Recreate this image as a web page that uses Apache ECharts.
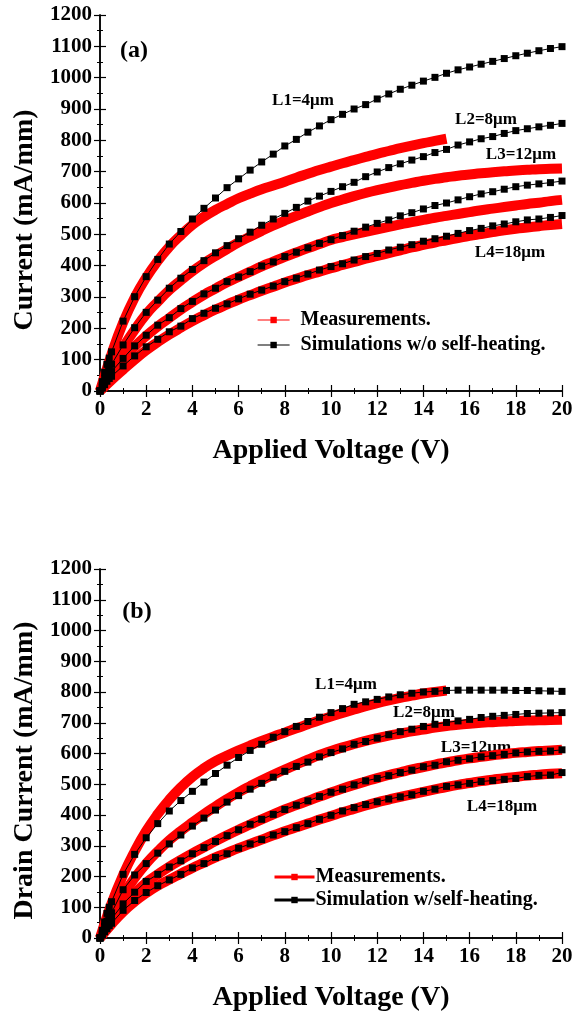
<!DOCTYPE html>
<html>
<head>
<meta charset="utf-8">
<script src="https://cdn.jsdelivr.net/npm/echarts@6/dist/echarts.min.js"></script>
<style>
  html, body { margin: 0; padding: 0; background: #fff; }
  #chart { width: 583px; height: 1013px; }
</style>
</head>
<body>
<div id="chart"></div>
<script>
// voltages of the simulation points and of the measurement points
var simV = [0, 0.1, 0.2, 0.3, 0.4, 0.5, 1, 1.5, 2, 2.5, 3, 3.5, 4, 4.5, 5, 5.5, 6, 6.5, 7, 7.5, 8, 8.5, 9, 9.5, 10,
  10.5, 11, 11.5, 12, 12.5, 13, 13.5, 14, 14.5, 15, 15.5, 16, 16.5, 17, 17.5, 18, 18.5, 19, 19.5, 20];
var measV = [0, 0.5, 1, 1.5, 2, 2.5, 3, 3.5, 4, 4.5, 5, 5.5, 6, 6.5, 7, 7.5, 8, 8.5, 9, 9.5, 10,
  10.5, 11, 11.5, 12, 12.5, 13, 13.5, 14, 14.5, 15, 15.5, 16, 16.5, 17, 17.5, 18, 18.5, 19, 19.5, 20];

// (a) simulations w/o self-heating
var simA_L1 = [0, 30, 60, 85, 105, 125, 223, 301, 365, 420, 469, 509, 549, 583, 616, 649, 677, 705, 731, 756, 782, 803, 826, 846, 866,
  883, 900, 914, 932, 948, 963, 976, 989, 1001, 1014, 1025, 1034, 1043, 1052, 1061, 1070, 1078, 1086, 1093, 1099];
var simA_L2 = [0, 18, 40, 58, 72, 85, 147, 202, 251, 290, 328, 360, 388, 416, 441, 464, 486, 507, 529, 549, 567, 586, 606, 622, 637,
  652, 666, 684, 699, 713, 725, 737, 748, 761, 771, 785, 795, 805, 812, 822, 831, 837, 843, 848, 854];
var simA_L3 = [0, 12, 28, 42, 54, 62, 104, 144, 178, 210, 234, 263, 286, 310, 328, 349, 364, 381, 399, 412, 429, 443, 457, 471, 483,
  496, 510, 523, 535, 546, 559, 569, 581, 592, 600, 610, 620, 629, 636, 644, 652, 657, 661, 665, 670];
var simA_L4 = [0, 9, 20, 31, 40, 47, 80, 112, 141, 165, 189, 207, 231, 248, 264, 278, 294, 309, 322, 335, 349, 360, 373, 386, 397,
  406, 418, 429, 439, 450, 459, 467, 478, 486, 494, 503, 512, 519, 527, 533, 540, 546, 549, 554, 560];

// (a) measurements (L1 stops at 15 V)
var measA_L1 = [0, 118, 218, 298, 362, 415, 460, 497, 530, 556, 578, 597, 615, 630, 644, 656, 668, 681, 693, 705, 716,
  727, 737, 747, 757, 766, 775, 783, 791, 798, 805];
var measA_L2 = [0, 80, 140, 195, 245, 285, 322, 353, 382, 408, 431, 453, 474, 493, 511, 528, 544, 559, 573, 587, 600,
  611, 622, 632, 641, 649, 657, 664, 671, 677, 682, 687, 691, 695, 698, 701, 704, 706, 708, 709, 710];
var measA_L3 = [0, 58, 102, 142, 176, 206, 233, 260, 284, 307, 327, 347, 364, 381, 398, 413, 428, 442, 456, 469, 482,
  491, 500, 508, 516, 524, 532, 539, 546, 553, 559, 565, 571, 577, 582, 587, 592, 597, 601, 606, 610];
var measA_L4 = [0, 35, 68, 100, 130, 156, 180, 202, 223, 242, 260, 276, 292, 306, 320, 333, 346, 358, 370, 381, 392,
  402, 412, 422, 431, 440, 449, 458, 466, 474, 481, 488, 495, 501, 507, 513, 518, 522, 526, 530, 533];

// (b) simulations with self-heating
var simB_L1 = [0, 25, 52, 80, 100, 118, 207, 272, 326, 372, 413, 447, 477, 507, 535, 562, 587, 610, 630, 653, 671, 688, 704, 718, 733,
  746, 760, 768, 776, 784, 791, 796, 800, 802, 805, 806, 806, 806, 806, 806, 805, 805, 804, 803, 802];
var simB_L2 = [0, 18, 38, 55, 70, 82, 157, 205, 242, 276, 306, 335, 364, 390, 416, 442, 463, 484, 503, 523, 542, 558, 572, 589, 603,
  615, 630, 639, 650, 661, 671, 679, 688, 695, 701, 706, 711, 717, 721, 724, 727, 730, 731, 732, 733];
var simB_L3 = [0, 12, 27, 40, 52, 62, 111, 149, 184, 207, 231, 251, 274, 294, 314, 333, 352, 370, 386, 402, 418, 432, 446, 460, 474,
  484, 498, 511, 519, 528, 538, 546, 557, 562, 573, 578, 583, 589, 593, 597, 602, 605, 607, 608, 612];
var simB_L4 = [0, 9, 20, 30, 40, 48, 90, 122, 148, 170, 189, 207, 228, 242, 262, 274, 292, 306, 320, 335, 346, 359, 372, 386, 399,
  413, 424, 434, 443, 452, 459, 466, 477, 484, 493, 498, 503, 509, 512, 516, 519, 525, 529, 530, 538];

// (b) measurements
var measB_L1 = [0, 112, 205, 282, 348, 403, 450, 490, 524, 552, 575, 593, 610, 626, 641, 655, 668, 682, 695, 708, 720,
  732, 743, 754, 764, 773, 781, 788, 795, 800, 805];
var measB_L2 = [0, 75, 140, 195, 242, 282, 318, 348, 376, 403, 428, 452, 474, 494, 513, 531, 548, 564, 580, 595, 608,
  620, 631, 641, 650, 658, 665, 672, 678, 684, 689, 693, 697, 700, 702, 704, 706, 707, 708, 709, 710];
var measB_L3 = [0, 55, 105, 145, 180, 207, 232, 254, 275, 295, 315, 334, 352, 369, 386, 402, 418, 432, 446, 460, 473,
  486, 498, 509, 520, 530, 539, 548, 556, 564, 571, 578, 584, 589, 594, 598, 602, 605, 608, 610, 612];
var measB_L4 = [0, 45, 85, 118, 146, 170, 190, 209, 228, 245, 262, 277, 292, 306, 320, 334, 347, 360, 372, 385, 397,
  409, 420, 431, 441, 450, 459, 467, 475, 483, 491, 498, 504, 510, 515, 520, 524, 528, 531, 534, 536];

var curveLabels = ["L1=4μm", "L2=8μm", "L3=12μm", "L4=18μm"];

var FONT = "Liberation Serif";

function pairs(xs, ys) {
  return ys.map(function (y, i) { return [xs[i], y]; });
}

function xAxes(grid) {
  var common = {
    gridIndex: grid, type: "value", min: 0, max: 20, interval: 2,
    axisLine: { lineStyle: { color: "#000", width: 1.5 } },
    axisTick: { inside: true, length: 6, lineStyle: { color: "#000", width: 1.2 } },
    minorTick: { show: true, splitNumber: 2, length: 3, lineStyle: { color: "#000", width: 1 } },
    splitLine: { show: false }
  };
  return [
    Object.assign({}, common, {
      position: "bottom",
      axisLabel: { color: "#000", fontFamily: FONT, fontWeight: "bold", fontSize: 21, margin: 8 },
      name: "Applied Voltage (V)", nameLocation: "middle", nameGap: 46,
      nameTextStyle: { color: "#000", fontFamily: FONT, fontWeight: "bold", fontSize: 28 }
    }),
    Object.assign({}, common, { position: "top", axisLabel: { show: false } })
  ];
}

function yAxes(grid, title) {
  var common = {
    gridIndex: grid, type: "value", min: 0, max: 1200, interval: 100,
    axisLine: { lineStyle: { color: "#000", width: 1.5 } },
    axisTick: { inside: true, length: 6, lineStyle: { color: "#000", width: 1.2 } },
    minorTick: { show: true, splitNumber: 2, length: 3, lineStyle: { color: "#000", width: 1 } },
    splitLine: { show: false }
  };
  return [
    Object.assign({}, common, {
      position: "left",
      axisLabel: {
        color: "#000", fontFamily: FONT, fontWeight: "bold", fontSize: 21, margin: 8,
        formatter: function (v) { return String(v); }
      },
      name: title, nameLocation: "middle", nameGap: 52,
      nameTextStyle: { color: "#000", fontFamily: FONT, fontWeight: "bold", fontSize: 28, padding: [0, 34, 0, 0] }
    }),
    Object.assign({}, common, { position: "right", axisLabel: { show: false } })
  ];
}

function measSeries(name, axis, ys) {
  return {
    name: name, type: "line", xAxisIndex: axis, yAxisIndex: axis,
    data: pairs(measV, ys), smooth: true,
    symbol: "rect", symbolSize: 8, showSymbol: false,
    itemStyle: { color: "#ff0000" },
    lineStyle: { color: "#ff0000", width: 10 },
    z: 2, animation: false
  };
}

function simSeries(name, axis, ys) {
  return {
    name: name, type: "line", xAxisIndex: axis, yAxisIndex: axis,
    data: pairs(simV, ys),
    symbol: "rect", symbolSize: 7,
    itemStyle: { color: "#000" },
    lineStyle: { color: "#000", width: 1 },
    z: 3, animation: false
  };
}

var simNameA = "Simulations w/o self-heating.";
var simNameB = "Simulation w/self-heating.";
var measName = "Measurements.";

var labelStyle = { fill: "#000", fontFamily: FONT, fontWeight: "bold", align: "center", verticalAlign: "middle" };
function label(text, x, y, size) {
  return { type: "text", x: x, y: y, style: Object.assign({}, labelStyle, { text: text, fontSize: size || 17 }) };
}

var chart = echarts.init(document.getElementById("chart"));
chart.setOption({
  backgroundColor: "#fff",
  animation: false,
  grid: [
    { left: 100, top: 15, width: 462, height: 376 },
    { left: 100, top: 569, width: 462, height: 375 }
  ],
  xAxis: xAxes(0).concat(xAxes(1)).map(function (a, i) { a.gridIndex = i < 2 ? 0 : 1; return a; }),
  yAxis: yAxes(0, "Current (mA/mm)").concat(yAxes(1, "Drain Current (mA/mm)")),
  legend: [
    {
      data: [measName, simNameA], orient: "vertical", left: 257, top: 310, padding: 0,
      itemWidth: 32, itemHeight: 8, itemGap: 5,
      lineStyle: { width: 1.2 },
      textStyle: { color: "#000", fontFamily: FONT, fontWeight: "bold", fontSize: 20, lineHeight: 20, padding: [0, 0, 0, 6] }
    },
    {
      data: [measName, simNameB], orient: "vertical", left: 273, top: 867, padding: 0,
      itemWidth: 40, itemHeight: 8, itemGap: 3,
      lineStyle: { width: 3 },
      textStyle: { color: "#000", fontFamily: FONT, fontWeight: "bold", fontSize: 20, lineHeight: 20, padding: [0, 0, 0, -4] }
    }
  ],
  graphic: [
    label("(a)", 134, 51, 24),
    label("(b)", 137, 612, 24),
    label(curveLabels[0], 303, 101),
    label(curveLabels[1], 486, 120),
    label(curveLabels[2], 521, 155),
    label(curveLabels[3], 510, 253),
    label(curveLabels[0], 346, 685),
    label(curveLabels[1], 424, 713),
    label(curveLabels[2], 476, 748),
    label(curveLabels[3], 502, 807)
  ],
  series: [
    measSeries(measName, 0, measA_L1),
    measSeries(measName, 0, measA_L2),
    measSeries(measName, 0, measA_L3),
    measSeries(measName, 0, measA_L4),
    simSeries(simNameA, 0, simA_L1),
    simSeries(simNameA, 0, simA_L2),
    simSeries(simNameA, 0, simA_L3),
    simSeries(simNameA, 0, simA_L4),
    measSeries(measName, 2, measB_L1),
    measSeries(measName, 2, measB_L2),
    measSeries(measName, 2, measB_L3),
    measSeries(measName, 2, measB_L4),
    simSeries(simNameB, 2, simB_L1),
    simSeries(simNameB, 2, simB_L2),
    simSeries(simNameB, 2, simB_L3),
    simSeries(simNameB, 2, simB_L4)
  ]
});
</script>
</body>
</html>
